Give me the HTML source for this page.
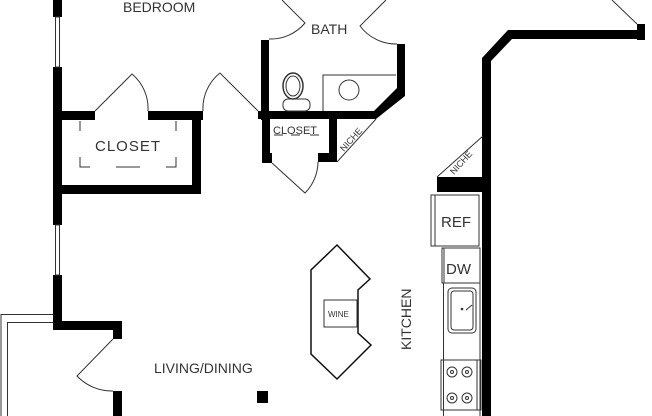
<!DOCTYPE html>
<html><head><meta charset="utf-8"><style>
html,body{margin:0;padding:0;background:#fff;width:652px;height:416px;overflow:hidden}
svg{display:block}
text{font-family:"Liberation Sans",sans-serif;fill:#333}
</style></head><body>
<svg width="652" height="416" viewBox="0 0 652 416" xmlns="http://www.w3.org/2000/svg">
<g fill="#000" stroke="none">
<rect x="53" y="0" width="9" height="17"/>
<rect x="53" y="67" width="9" height="158"/>
<rect x="53" y="275" width="9" height="55"/>
<rect x="53" y="321" width="69" height="9"/>
<rect x="113" y="321" width="9" height="18"/>
<rect x="113" y="391" width="9" height="25"/>
<rect x="53" y="111" width="42" height="9"/>
<rect x="148" y="111" width="55" height="9"/>
<rect x="192" y="111" width="9" height="82"/>
<rect x="53" y="185" width="148" height="9"/>
<rect x="261" y="40" width="8" height="80"/>
<rect x="258" y="111" width="116" height="8"/>
<rect x="397" y="44" width="8" height="48"/>
<polygon points="397,88 405,92 405,96 376,119 366,119"/>
<rect x="262" y="119" width="8" height="44"/>
<rect x="329" y="119" width="8" height="43"/>
<rect x="318" y="153" width="12" height="9"/>
<rect x="262" y="153" width="10" height="10"/>
<polygon points="482,416 482,58 508,30 645,30 645,39 512,39 491,61 491,416"/>
<rect x="637" y="24" width="8" height="16"/>
<rect x="437" y="177" width="50" height="15"/>
<rect x="257" y="391" width="11" height="12"/>
</g>
<g fill="none" stroke="#333" stroke-width="1">
<rect x="55.5" y="17" width="4" height="50"/>
<rect x="55.5" y="225" width="4" height="50"/>
<path d="M1,416 V314.5 H53"/>
<path d="M7.5,416 V322.5 H53"/>
<path d="M113,339 L77,376 A48,48 0 0 0 113,391"/>
<path d="M95,111 L132,74 A45,45 0 0 1 148,111"/>
<path d="M258,111 L220,73 A45,45 0 0 0 203,111"/>
<path d="M269,39 A45,45 0 0 0 305,23 L282,0"/>
<path d="M397,44 A45,45 0 0 1 360,26 L386,0"/>
<path d="M637,24 L612,0"/>
<path d="M272,163 L305,193 A45,45 0 0 0 318,162"/>
<path d="M337,162 L376,119"/>
<path d="M437,177 L483,136"/>
<ellipse cx="293" cy="86" rx="10" ry="13" stroke-width="1.5"/>
<ellipse cx="293" cy="86" rx="7" ry="10"/>
<rect x="283" y="99" width="27" height="12" rx="5"/>
<path d="M323,111 V75 H396"/>
<circle cx="349" cy="90" r="10"/>
<path d="M80,121 v10 M176,121 v10 M80,157 v10 h10 M176,157 v10 h-10 M116,167 h24"/>
<path d="M274,135 h9 M291,135 h9 M310,135 h9"/>
<polygon points="337,245 370,279 358,290 358,333 371,345 337,379 311,354 311,270" stroke="#111" stroke-width="1.5"/>
<rect x="324" y="300" width="33" height="27"/>
<rect x="431" y="195" width="48" height="51"/>
<path d="M435,195 V246"/>
<rect x="442" y="248" width="38" height="35"/>
<path d="M444,248 V283"/>
<path d="M443.5,283 V416 M480,283 V416"/>
<rect x="448" y="288" width="28" height="45" rx="4"/>
<rect x="451" y="291" width="22" height="39" rx="3"/>
<rect x="441" y="360" width="40" height="50"/>
<path d="M477,360 V410"/>
<circle cx="452" cy="372" r="5"/><circle cx="467" cy="372" r="5"/>
<circle cx="452" cy="398" r="5"/><circle cx="467" cy="398" r="5"/>
<circle cx="452" cy="372" r="1.5"/><circle cx="467" cy="372" r="1.5"/>
<circle cx="452" cy="398" r="1.5"/><circle cx="467" cy="398" r="1.5"/>
<path d="M466,310 l6,-5"/>
</g>
<circle cx="462" cy="309" r="1.3" fill="#333"/>
<text x="123" y="12" font-size="14">BEDROOM</text>
<text x="311" y="34" font-size="14">BATH</text>
<text x="95" y="151" font-size="15" letter-spacing="1">CLOSET</text>
<text x="273" y="134" font-size="11">CLOSET</text>
<text x="154" y="373" font-size="14">LIVING/DINING</text>
<text x="328" y="317" font-size="8">WINE</text>
<text x="441" y="227" font-size="15">REF</text>
<text x="446" y="274" font-size="15">DW</text>
<text font-size="14" transform="translate(411,350) rotate(-90)">KITCHEN</text>
<text font-size="9" transform="translate(344,152) rotate(-48)">NICHE</text>
<text font-size="9" transform="translate(454,175) rotate(-48)">NICHE</text>
</svg>
</body></html>
